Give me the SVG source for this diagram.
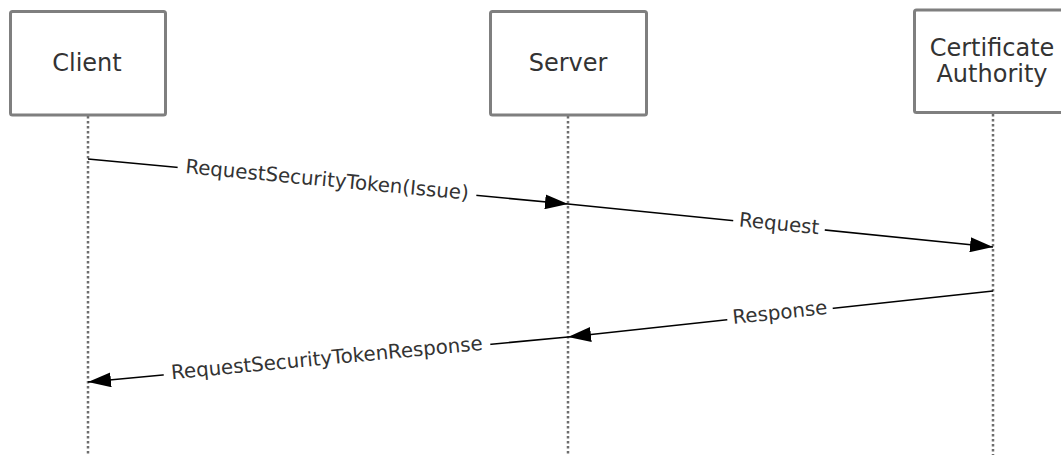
<svg xmlns="http://www.w3.org/2000/svg" width="1061" height="455" viewBox="0 0 1061 455">
<style>
.box{fill:#fff;stroke:#7f7f7f;stroke-width:3}
.life{stroke:#6e6e6e;stroke-width:2.5;stroke-dasharray:2.5 2.5;fill:none}
.msg{stroke:#000;stroke-width:1.5;fill:none;marker-end:url(#arr)}
.nt{font-family:"DejaVu Sans",Verdana,sans-serif;font-size:24px;fill:#333;text-anchor:middle}
.lt{font-family:"DejaVu Sans",Verdana,sans-serif;font-size:19.8px;fill:#333;text-anchor:middle}
.bg{fill:#fff}
</style>
<defs>
<marker id="arr" markerUnits="userSpaceOnUse" markerWidth="23" markerHeight="15" refX="23" refY="7.5" orient="auto">
<path d="M0,0 L23,7.5 L0,15 z" fill="#000"/>
</marker>
</defs>
<g id="lifelines">
<line class="life" x1="88" y1="116" x2="88" y2="455"/>
<line class="life" x1="568" y1="116" x2="568" y2="455"/>
<line class="life" x1="993" y1="114" x2="993" y2="455"/>
</g>
<g id="client">
<rect class="box" x="10.5" y="11.5" width="155" height="103.5" rx="2"/>
<text class="nt" x="87" y="71">Client</text>
</g>
<g id="server">
<rect class="box" x="490.5" y="11.5" width="156" height="103.5" rx="2"/>
<text class="nt" x="568" y="71">Server</text>
</g>
<g id="ca">
<rect class="box" x="914.5" y="10" width="156" height="102.5" rx="2"/>
<text class="nt" x="992" y="56">Certificate</text>
<text class="nt" x="992" y="82">Authority</text>
</g>
<g id="connectors">
<line class="msg" x1="88" y1="159" x2="568" y2="204"/>
<g transform="translate(327,181.4) rotate(5.36)"><rect class="bg" x="-150" y="-11" width="300" height="22"/><text class="lt" x="0" y="5">RequestSecurityToken(Issue)</text></g>
<line class="msg" x1="568" y1="204" x2="993" y2="247"/>
<g transform="translate(779,225.3) rotate(5.78)"><rect class="bg" x="-46" y="-11" width="92" height="22"/><text class="lt" x="0" y="5">Request</text></g>
<line class="msg" x1="993" y1="291" x2="568" y2="337"/>
<g transform="translate(780,314) rotate(-6.18)"><rect class="bg" x="-53" y="-11" width="106" height="22"/><text class="lt" x="0" y="5">Response</text></g>
<line class="msg" x1="568" y1="337" x2="88" y2="382"/>
<g transform="translate(327,359.6) rotate(-5.36)"><rect class="bg" x="-164" y="-11" width="328" height="22"/><text class="lt" x="0" y="5">RequestSecurityTokenResponse</text></g>
</g>
</svg>
